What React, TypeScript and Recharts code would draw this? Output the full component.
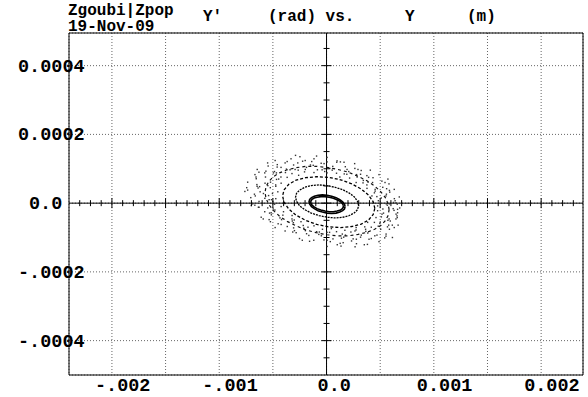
import React from "react";
import { ScatterChart, Scatter, XAxis, YAxis, CartesianGrid, ReferenceLine } from "recharts";

// Y in micro-metres, Y' in micro-radians
const xLabelTicks = [-2000, -1000, 0, 1000, 2000];
const xLabels = ["-.002", "-.001", "0.0", "0.001", "0.002"];
const xGridTicks = [-2000, -1500, -1000, -500, 0, 500, 1000, 1500, 2000];
const yGridTicks = [-400, -200, 0, 200, 400];
const yLabels = ["-.0004", "-.0002", "0.0", "0.0002", "0.0004"];

const X_DOMAIN = [-2400, 2390];
const Y_DOMAIN = [-500, 495];

// innermost turns (dense ring)
const ringA1 = [
  [173, -10], [167, -3], [150, 4], [124, 10], [89, 16], [48, 20], [5, 23], [-39, 24],
  [-79, 23], [-114, 20], [-140, 16], [-157, 11], [-163, 4], [-157, -3], [-140, -10], [-114, -16],
  [-79, -22], [-39, -26], [5, -29], [48, -30], [89, -29], [124, -26], [150, -22], [167, -17], [173, -10],
];
const ringA2 = [
  [156, -6], [145, 0], [126, 5], [98, 10], [63, 14], [25, 17], [-15, 19], [-53, 19],
  [-88, 17], [-116, 15], [-135, 11], [-146, 6], [-146, 0], [-135, -6], [-116, -11], [-88, -16],
  [-53, -20], [-15, -23], [25, -25], [63, -25], [98, -23], [126, -21], [145, -17], [156, -12], [156, -6],
];
const ringB = [
  [299, -7], [289, 5], [260, 18], [213, 29], [152, 39], [81, 46], [5, 51], [-71, 53],
  [-142, 51], [-203, 46], [-250, 38], [-279, 29], [-289, 17], [-279, 5], [-250, -8], [-203, -19],
  [-142, -29], [-71, -36], [5, -41], [81, -43], [152, -41], [213, -36], [260, -28], [289, -19], [299, -7],
];
const ringC = [
  [450, -15], [435, 4], [392, 23], [324, 41], [235, 56], [131, 68], [20, 75], [-91, 77],
  [-195, 74], [-284, 67], [-352, 55], [-395, 39], [-410, 21], [-395, 2], [-352, -17], [-284, -35],
  [-195, -50], [-91, -62], [20, -69], [131, -71], [235, -68], [324, -61], [392, -49], [435, -33], [450, -15],
];
const ringD = [
  [583, -19], [574, -2], [548, 16], [506, 33], [448, 50], [377, 65], [294, 78], [203, 90], [106, 98],
  [5, 104], [-96, 107], [-193, 107], [-284, 103], [-367, 97], [-438, 88], [-496, 77], [-538, 63], [-564, 48],
  [-573, 31], [-564, 14], [-538, -4], [-496, -21], [-438, -38], [-367, -53], [-284, -66], [-193, -78], [-96, -86],
  [5, -92], [106, -95], [203, -95], [294, -91], [377, -85], [448, -76], [506, -65], [548, -51], [574, -36], [583, -19],
];

// diffuse particles around the rings
const haloOuter = [
  [629, -21], [682, -14], [585, -2], [639, 7], [678, 18], [558, 26], [586, 37], [524, 46], [545, 60],
  [429, 60], [433, 74], [376, 80], [317, 84], [293, 98], [207, 92], [175, 106], [129, 120], [58, 107],
  [5, 120], [-50, 116], [-117, 129], [-150, 111], [-223, 122], [-268, 117], [-307, 111], [-386, 117],
  [-374, 99], [-460, 105], [-544, 108], [-495, 88], [-576, 88], [-569, 76], [-657, 76], [-573, 58],
  [-649, 54], [-638, 44], [-619, 33], [-672, 26], [-575, 14], [-629, 5], [-668, -6], [-548, -14],
  [-576, -25], [-514, -34], [-535, -48], [-419, -48], [-423, -62], [-366, -68], [-307, -72], [-283, -86],
  [-197, -80], [-165, -94], [-119, -108], [-48, -95], [5, -108], [60, -104], [127, -117], [160, -99],
  [233, -110], [278, -105], [317, -99], [396, -105], [384, -87], [470, -93], [554, -96], [505, -76],
  [586, -76], [579, -64], [667, -64], [583, -46], [659, -42], [648, -32],
];
const haloInner = [
  [525, -17], [476, -8], [557, -2], [483, 7], [510, 15], [423, 21], [446, 30], [453, 40], [377, 43],
  [376, 53], [340, 59], [276, 60], [285, 76], [215, 73], [189, 84], [124, 76], [93, 87], [53, 96],
  [5, 88], [-41, 97], [-85, 97], [-117, 89], [-187, 104], [-205, 91], [-264, 96], [-260, 81],
  [-322, 86], [-383, 89], [-367, 75], [-425, 76], [-446, 70], [-423, 58], [-522, 61], [-473, 49],
  [-524, 45], [-454, 33], [-504, 28], [-540, 22], [-473, 13], [-501, 5], [-484, -3], [-423, -10],
  [-481, -20], [-401, -25], [-407, -35], [-321, -36], [-322, -46], [-309, -57], [-238, -54], [-217, -65],
  [-173, -70], [-117, -66], [-92, -83], [-38, -76], [5, -85], [45, -74], [93, -83], [147, -90],
  [171, -79], [227, -84], [265, -81], [276, -71], [366, -82], [356, -69], [417, -70], [383, -56],
  [446, -56], [501, -55], [461, -42], [511, -40], [517, -32], [476, -22],
];
const haloMid = [
  [662, -18], [566, -6], [624, 2], [632, 13], [554, 21], [589, 32], [453, 35], [582, 56], [516, 64],
  [387, 61], [392, 75], [408, 96], [280, 83], [264, 101], [165, 85], [163, 119], [95, 119], [30, 101],
  [-23, 115], [-93, 137], [-124, 110], [-199, 124], [-198, 98], [-331, 129], [-367, 121], [-340, 97],
  [-424, 104], [-549, 117], [-467, 88], [-565, 93], [-466, 69], [-667, 83], [-655, 71], [-547, 51],
  [-624, 48], [-744, 45], [-588, 28], [-664, 21], [-513, 10], [-688, -2], [-635, -12], [-497, -17],
  [-531, -29], [-590, -46], [-434, -43], [-451, -60], [-319, -52], [-386, -81], [-315, -84], [-212, -73],
  [-186, -89], [-158, -111], [-72, -91], [-24, -107], [28, -85], [100, -121], [155, -115], [176, -93],
  [248, -104], [352, -121], [324, -93], [417, -103], [364, -76], [542, -101], [555, -90], [482, -67],
  [568, -69], [613, -64], [572, -50], [647, -46], [531, -29], [662, -28],
];
const haloMid2 = [
  [621, -16], [647, 1], [469, 19], [560, 42], [572, 70], [343, 66], [323, 95], [191, 98], [98, 123],
  [-17, 92], [-138, 121], [-289, 139], [-293, 98], [-459, 112], [-485, 92], [-630, 90], [-474, 53],
  [-647, 49], [-761, 34], [-535, 10], [-629, -12], [-516, -28], [-523, -54], [-301, -49], [-299, -80],
  [-226, -108], [-67, -84], [35, -112], [139, -102], [279, -118], [275, -78], [450, -95], [614, -100],
  [497, -59], [594, -52], [657, -37],
];
const haloFar = [
  [-735, 38], [-706, 16], [-735, 61], [-701, -7], [-646, 98], [-479, 124], [-248, 135], [5, 133],
  [262, 115], [489, 83], [631, 40], [659, -3], [631, -71], [489, -112], [266, -127], [5, -126],
  [-252, -103], [-479, -71], [-609, -41], [135, -125], [381, -120],
];

const MONO = "'Liberation Mono', 'DejaVu Sans Mono', monospace";

const range = (from: number, to: number, step: number) => {
  const out: number[] = [];
  for (let v = from; v <= to; v += step) out.push(v);
  return out;
};
const xMinorTicks = range(-2300, 2300, 100);
const yMinorTicks = range(-450, 450, 50);

const toPts = (arr: number[][]) => arr.map(([x, y]) => ({ x, y }));

const NoDot = () => <g />;
const Dot = (props: any) => (
  <rect x={props.cx - 0.7} y={props.cy - 0.7} width={1.4} height={1.4} fill="#333" />
);

// little cross ticks on the zero axes
const hMarks = xMinorTicks.map((v) => ({ x: v, y: 0, major: v % 500 === 0 }));
const vMarks = yMinorTicks.map((v) => ({ x: 0, y: v, major: v % 200 === 0 }));
const HMark = (props: any) => {
  const h = props.payload.major ? 5 : 3;
  return <line x1={props.cx} x2={props.cx} y1={props.cy - h} y2={props.cy + h} stroke="#000" />;
};
const VMark = (props: any) => {
  const h = props.payload.major ? 5 : 3;
  return <line x1={props.cx - h} x2={props.cx + h} y1={props.cy} y2={props.cy} stroke="#000" />;
};

const XTick = (props: any) => {
  const i = xLabelTicks.indexOf(props.payload.value);
  if (i < 0) return <g />;
  const label = xLabels[i];
  const shift = label.length > 3 ? -17 : -9;
  return (
    <text x={props.x + shift} y={props.y + 16} textAnchor="start" fontFamily={MONO} fontWeight="bold" fontSize={18.5} fill="#000">
      {label}
    </text>
  );
};

const YTick = (props: any) => {
  const i = yGridTicks.indexOf(props.payload.value);
  if (i < 0) return <g />;
  const label = yLabels[i];
  const left = label.length > 3 ? 18 : 29;
  return (
    <text x={left} y={props.y + 6} textAnchor="start" fontFamily={MONO} fontWeight="bold" fontSize={18.5} fill="#000">
      {label}
    </text>
  );
};

const titleStyle: React.CSSProperties = {
  position: "absolute",
  fontFamily: MONO,
  fontWeight: "bold",
  fontSize: "16px",
  lineHeight: "12px",
  whiteSpace: "pre",
  color: "#000",
};

const App = () => {
  return (
    <div style={{ position: "absolute", left: 0, top: 0, width: 588, height: 397, background: "#fff" }}>
      <ScatterChart width={588} height={397} margin={{ top: 33, right: 5, bottom: 0, left: 0 }}>
        <CartesianGrid stroke="#666" strokeDasharray="1 2" />
        <XAxis
          type="number"
          dataKey="x"
          domain={X_DOMAIN}
          allowDataOverflow
          ticks={xGridTicks}
          interval={0}
          tick={<XTick />}
          tickLine={false}
          tickSize={0}
          tickMargin={0}
          height={22}
          axisLine={{ stroke: "#000" }}
        />
        <XAxis
          xAxisId="bottomMinor"
          type="number"
          orientation="bottom"
          mirror
          domain={X_DOMAIN}
          allowDataOverflow
          ticks={xMinorTicks}
          interval={0}
          tick={false}
          tickSize={4}
          tickLine={{ stroke: "#000" }}
          axisLine={false}
        />
        <XAxis
          xAxisId="top"
          type="number"
          orientation="top"
          mirror
          domain={X_DOMAIN}
          allowDataOverflow
          ticks={xMinorTicks}
          interval={0}
          tick={false}
          tickSize={4}
          tickLine={{ stroke: "#000" }}
          axisLine={{ stroke: "#000" }}
        />
        <YAxis
          type="number"
          dataKey="y"
          domain={Y_DOMAIN}
          allowDataOverflow
          ticks={yGridTicks}
          interval={0}
          tick={<YTick />}
          tickLine={false}
          tickSize={0}
          tickMargin={0}
          width={69}
          axisLine={{ stroke: "#000" }}
        />
        <YAxis
          yAxisId="leftMinor"
          type="number"
          orientation="left"
          mirror
          domain={Y_DOMAIN}
          allowDataOverflow
          ticks={yMinorTicks}
          interval={0}
          tick={false}
          tickSize={4}
          tickLine={{ stroke: "#000" }}
          axisLine={false}
        />
        <YAxis
          yAxisId="right"
          type="number"
          orientation="right"
          mirror
          domain={Y_DOMAIN}
          allowDataOverflow
          ticks={yMinorTicks}
          interval={0}
          tick={false}
          tickSize={4}
          tickLine={{ stroke: "#000" }}
          axisLine={{ stroke: "#000" }}
        />
        <ReferenceLine x={0} stroke="#000" />
        <ReferenceLine y={0} stroke="#000" />

        <Scatter data={toPts(haloFar)} shape={Dot} isAnimationActive={false} />
        <Scatter data={toPts(haloOuter)} shape={Dot} isAnimationActive={false} />
        <Scatter data={toPts(haloMid)} shape={Dot} isAnimationActive={false} />
        <Scatter data={toPts(haloMid2)} shape={Dot} isAnimationActive={false} />
        <Scatter data={toPts(haloInner)} shape={Dot} isAnimationActive={false} />
        <Scatter data={toPts(ringD)} shape={NoDot} line={{ stroke: "#111", strokeWidth: 1.2, strokeDasharray: "3 3" }} lineType="joint" isAnimationActive={false} />
        <Scatter data={toPts(ringC)} shape={NoDot} line={{ stroke: "#000", strokeWidth: 1.3, strokeDasharray: "3 2" }} lineType="joint" isAnimationActive={false} />
        <Scatter data={toPts(ringB)} shape={NoDot} line={{ stroke: "#000", strokeWidth: 1.3, strokeDasharray: "2 1" }} lineType="joint" isAnimationActive={false} />
        <Scatter data={toPts(ringA1)} shape={NoDot} line={{ stroke: "#000", strokeWidth: 1.6 }} lineType="joint" isAnimationActive={false} />
        <Scatter data={toPts(ringA2)} shape={NoDot} line={{ stroke: "#000", strokeWidth: 1.6 }} lineType="joint" isAnimationActive={false} />

        <Scatter data={hMarks} shape={HMark} isAnimationActive={false} />
        <Scatter data={vMarks} shape={VMark} isAnimationActive={false} />
      </ScatterChart>

      <div style={{ ...titleStyle, left: 68, top: 5 }}>Zgoubi|Zpop</div>
      <div style={{ ...titleStyle, left: 68, top: 21 }}>19-Nov-09</div>
      <div style={{ ...titleStyle, left: 203, top: 11 }}>Y'</div>
      <div style={{ ...titleStyle, left: 268, top: 11 }}>(rad) vs.</div>
      <div style={{ ...titleStyle, left: 405, top: 11 }}>Y</div>
      <div style={{ ...titleStyle, left: 467, top: 11 }}>(m)</div>
    </div>
  );
};

export default App;
